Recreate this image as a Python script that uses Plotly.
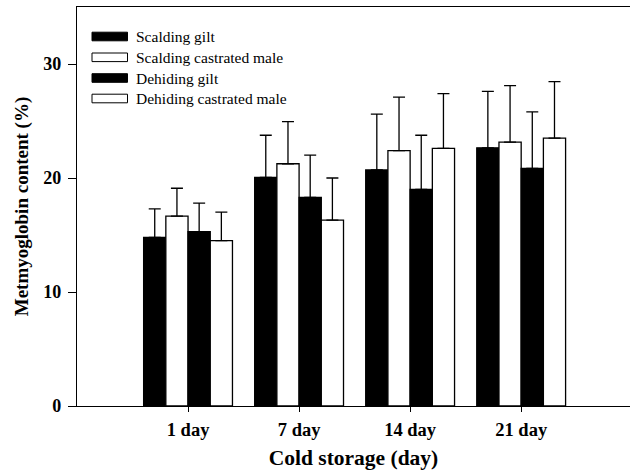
import plotly.graph_objects as go

categories = ["1 day", "7 day", "14 day", "21 day"]
series_names = ["Scalding gilt", "Scalding castrated male", "Dehiding gilt", "Dehiding castrated male"]
scalding_gilt = [14.8, 20.05, 20.7, 22.65]
scalding_gilt_err = [2.5, 3.7, 4.9, 4.95]
scalding_castrated = [16.65, 21.25, 22.4, 23.15]
scalding_castrated_err = [2.45, 3.7, 4.7, 4.95]
dehiding_gilt = [15.3, 18.3, 19.0, 20.85]
dehiding_gilt_err = [2.5, 3.7, 4.75, 4.95]
dehiding_castrated = [14.5, 16.3, 22.6, 23.5]
dehiding_castrated_err = [2.5, 3.7, 4.8, 4.95]
y_ticks = [0, 10, 20, 30]

values = [scalding_gilt, scalding_castrated, dehiding_gilt, dehiding_castrated]
errors = [scalding_gilt_err, scalding_castrated_err, dehiding_gilt_err, dehiding_castrated_err]
fills = ["black", "white", "black", "white"]

FONT = "Liberation Serif"
fig = go.Figure()
xs = list(range(len(categories)))
for name, v, e, c in zip(series_names, values, errors, fills):
    fig.add_trace(go.Bar(
        x=xs, y=v, name=name,
        marker=dict(color=c, line=dict(color="black", width=1.3)),
        error_y=dict(type="data", symmetric=False, array=e, arrayminus=[0] * len(e),
                     color="black", thickness=1.3, width=6),
        showlegend=False,
    ))

# manual legend
plot_l, plot_r, plot_t, plot_b = 77, 630, 7, 406
W, H = plot_r - plot_l, plot_b - plot_t
def px(x):
    return (x - plot_l) / W
def py(y):
    return (plot_b - y) / H
row_y = [36.5, 57.3, 78, 98.5]
for name, c, yc in zip(series_names, fills, row_y):
    fig.add_shape(type="rect", xref="paper", yref="paper",
                  x0=px(92), x1=px(127.5), y0=py(yc + 4.3), y1=py(yc - 4.3),
                  fillcolor=c, line=dict(color="black", width=1))
    fig.add_annotation(xref="paper", yref="paper", x=px(134), y=py(yc),
                       text=name, showarrow=False, xanchor="left", yanchor="middle",
                       font=dict(family=FONT, size=15.5, color="black"))

fig.update_layout(
    width=630, height=473,
    margin=dict(l=plot_l, r=0, t=plot_t, b=473 - plot_b),
    plot_bgcolor="white", paper_bgcolor="white",
    barmode="group", bargap=0.2, bargroupgap=0,
    font=dict(family=FONT, color="black"),
    xaxis=dict(
        range=[-1, 3.98], tickvals=xs, ticktext=[f"<b>{c}</b>" for c in categories],
        showline=True, linecolor="black", linewidth=1.3, mirror=True,
        ticks="outside", ticklen=5, tickcolor="black", showgrid=False, zeroline=False,
        tickfont=dict(family=FONT, size=18.5, color="black"), ticklabelstandoff=2,
        title=dict(text="<b>Cold storage (day)</b>", font=dict(family=FONT, size=21.5), standoff=10),
    ),
    yaxis=dict(
        range=[0, 35], tickvals=y_ticks, ticktext=[f"<b>{t}</b>" for t in y_ticks],
        showline=True, linecolor="black", linewidth=1.3,
        ticks="outside", ticklen=8, tickcolor="black", showgrid=False, zeroline=False,
        tickfont=dict(family=FONT, size=18, color="black"), ticklabelstandoff=3,
        title=dict(text="<b>Metmyoglobin content (%)</b>", font=dict(family=FONT, size=19), standoff=9),
    ),
)
fig.write_html("out.html", config={"displayModeBar": False},
               post_script="document.body.style.margin='0';")
